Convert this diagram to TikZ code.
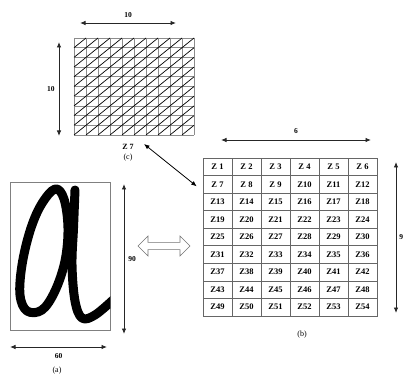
\documentclass[tikz,border=0pt]{standalone}
\usepackage{fontspec}
\setmainfont{Liberation Serif}
\usetikzlibrary{arrows.meta, shapes.arrows}
\tikzset{
  dim/.style={{Latex[length=5.5pt,width=4.5pt]}-{Latex[length=5.5pt,width=4.5pt]}, line width=0.9pt, draw=black!85},
  dimlabel/.style={font=\fontsize{7.5}{8}\selectfont\bfseries, inner sep=1pt},
  cell/.style={draw=black!60, line width=0.6pt, minimum width=29pt, minimum height=17.55pt, inner sep=0pt, font=\fontsize{8.5}{9}\selectfont\bfseries},
  caption/.style={font=\fontsize{8}{9}\selectfont, inner sep=1pt},
  gridline/.style={draw=black!45, line width=0.6pt},
  hatch/.style={draw=black, line width=0.7pt},
  ink/.style={line width=9pt, line cap=round, line join=round, draw=black},
  swap/.style={double arrow, draw=black!55, fill=white, line width=0.6pt, minimum width=20pt, minimum height=52pt, double arrow head extend=4pt, inner sep=2pt},
}
\begin{document}
\begin{tikzpicture}[x=1pt, y=-1pt]
  \useasboundingbox (0,0) rectangle (406,379);
  % (c) one zone split into 10 x 10 pixels
  \foreach \i in {0,...,10} \draw[gridline] (74+12*\i,38) -- (74+12*\i,135);
  \foreach \j in {0,...,10} \draw[gridline] (74,38+9.7*\j) -- (194,38+9.7*\j);
  \foreach \i in {0,...,9} \foreach \j in {0,...,9}
    \draw[hatch] (74+12*\i, 47.7+9.7*\j) -- ++(12,-9.7);
  \coordinate (ctl) at (80,23); \coordinate (ctr) at (176,23);
  \draw[dim] (ctl) -- node[dimlabel, above=4pt] {10} (ctr);
  \coordinate (cvt) at (59,42); \coordinate (cvb) at (59,136);
  \draw[dim] (cvt) -- node[dimlabel, left=3pt] {10} (cvb);
  \node[caption, font=\fontsize{8}{9}\selectfont\bfseries] (zsev) at (128,147) {Z 7};
  \node[caption] (capc) at (128,158) {(c)};
  % (b) the image split into 6 x 9 zones
  \foreach \r in {0,...,8} \foreach \c in {1,...,6} {
    \pgfmathtruncatemacro\n{6*\r+\c}
    \node[cell] (z\n) at (188.5+29*\c, 166.775+17.55*\r) {\ifnum\n<10 Z \n\else Z\n\fi};
  }
  \coordinate (btl) at (221,140); \coordinate (btr) at (371,140);
  \draw[dim] (btl) -- node[dimlabel, above=5pt] {6} (btr);
  \coordinate (bvt) at (396,162); \coordinate (bvb) at (396,313);
  \draw[dim] (bvt) -- node[dimlabel, right=2pt] {9} (bvb);
  \node[caption] (capb) at (302,335) {(b)};
  \coordinate (pick) at (144,144);
  \draw[{Latex[length=5.5pt,width=4.5pt]}-{Latex[length=5.5pt,width=4.5pt]}, line width=0.8pt] (pick) -- ([xshift=-6pt,yshift=-2pt]z7.west);
  % (a) the handwritten character
  \node[draw=black!50, line width=0.6pt, minimum width=100pt, minimum height=148pt, inner sep=0pt] (img) at (60,256) {};
  \begin{scope}
    \clip (img.south west) rectangle (img.north east);
    \draw[ink] plot[smooth cycle, tension=0.6] coordinates {(55,189) (41,205) (30,231) (22,265) (20,295) (27,311) (42,310) (55,291) (65,261) (68,228) (64,199)};
    \draw[ink] plot[smooth, tension=0.6] coordinates {(75,190) (73.5,228) (72,265) (75,301) (82,318) (95,315) (114,299)};
  \end{scope}
  \coordinate (avt) at (124,184); \coordinate (avb) at (124,334);
  \draw[dim] (avt) -- node[dimlabel, right=3pt] {90} (avb);
  \coordinate (ahl) at (10,347); \coordinate (ahr) at (107,347);
  \draw[dim] (ahl) -- node[dimlabel, below=5pt] (sixty) {60} (ahr);
  \node[caption] (capa) at (57,371) {(a)};
  \node[swap] (sw) at (164,246) {};
\end{tikzpicture}
\end{document}
